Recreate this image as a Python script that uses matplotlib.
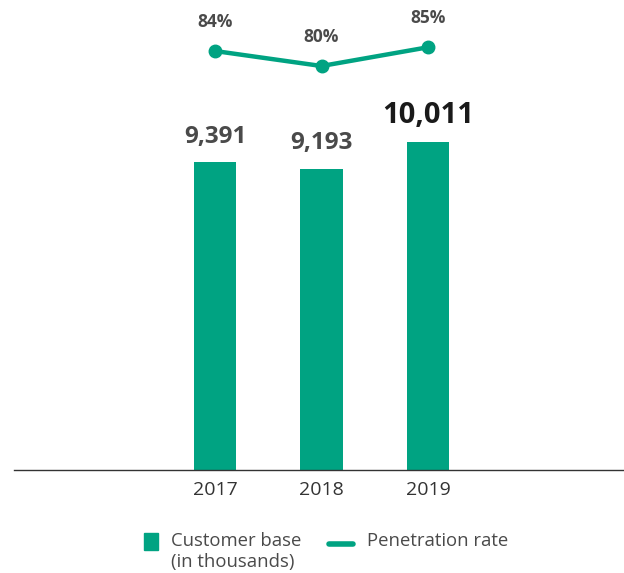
import numpy as np
import matplotlib.pyplot as plt
from matplotlib.patches import Rectangle
from matplotlib.lines import Line2D

plt.rcParams['font.family'] = ['Open Sans', 'DejaVu Sans']

years = ['2017', '2018', '2019']
customers = [9391, 9193, 10011]          # thousands
penetration = [84, 80, 85]               # percent
customer_labels = ['9,391', '9,193', '10,011']
penetration_labels = ['84%', '80%', '85%']

green = '#00a382'
grey = '#4a4a4a'

fig = plt.figure(figsize=(6.24, 5.73), dpi=100)
ax = fig.add_axes([14/624, 103/573, 610/624, 470/573])

x = np.arange(len(years))
ax.bar(x, customers, width=0.40, color=green, zorder=2)
ax.set_xlim(-1.887, 3.84)
ax.set_ylim(0, 14344)

for xi, v, lab in zip(x, customers, customer_labels):
    last = lab == customer_labels[-1]
    ax.annotate(lab, (xi, v), xytext=(0, 14), textcoords='offset points',
                ha='center', va='baseline', fontweight='bold',
                fontsize=21 if last else 17.5,
                color='#1a1a1a' if last else grey)

for s in ['top', 'left', 'right']:
    ax.spines[s].set_visible(False)
ax.spines['bottom'].set_color('#333333')
ax.spines['bottom'].set_linewidth(1.0)
ax.set_yticks([])
ax.set_xticks(x)
ax.set_xticklabels(years, fontsize=14, color='#333333')
ax.tick_params(axis='x', length=0, pad=8)

# penetration rate on its own scale above the bars
ax2 = ax.twinx()
ax2.set_ylim(-27.7, 97.6)
ax2.plot(x, penetration, color=green, lw=3.2, marker='o', ms=9,
         solid_capstyle='round', zorder=3)
for xi, v, lab in zip(x, penetration, penetration_labels):
    ax2.annotate(lab, (xi, v), xytext=(0, 17.5), textcoords='offset points',
                 ha='center', va='baseline', fontweight='bold',
                 fontsize=12.5, color=grey)
ax2.axis('off')

# legend
fig.add_artist(Rectangle((144/624, 1 - 550/573), 14/624, 17/573,
                         transform=fig.transFigure, color=green))
fig.text(171/624, 1 - 541/573, 'Customer base', fontsize=13.3, color=grey,
         va='center', ha='left')
fig.text(171/624, 1 - 562/573, '(in thousands)', fontsize=13.3, color=grey,
         va='center', ha='left')
fig.add_artist(Line2D([329/624, 353/624], [1 - 544/573, 1 - 544/573],
                      transform=fig.transFigure, color=green, lw=4,
                      solid_capstyle='round'))
fig.text(367/624, 1 - 541/573, 'Penetration rate', fontsize=13.3, color=grey,
         va='center', ha='left')

plt.savefig('out.png', dpi=100)
